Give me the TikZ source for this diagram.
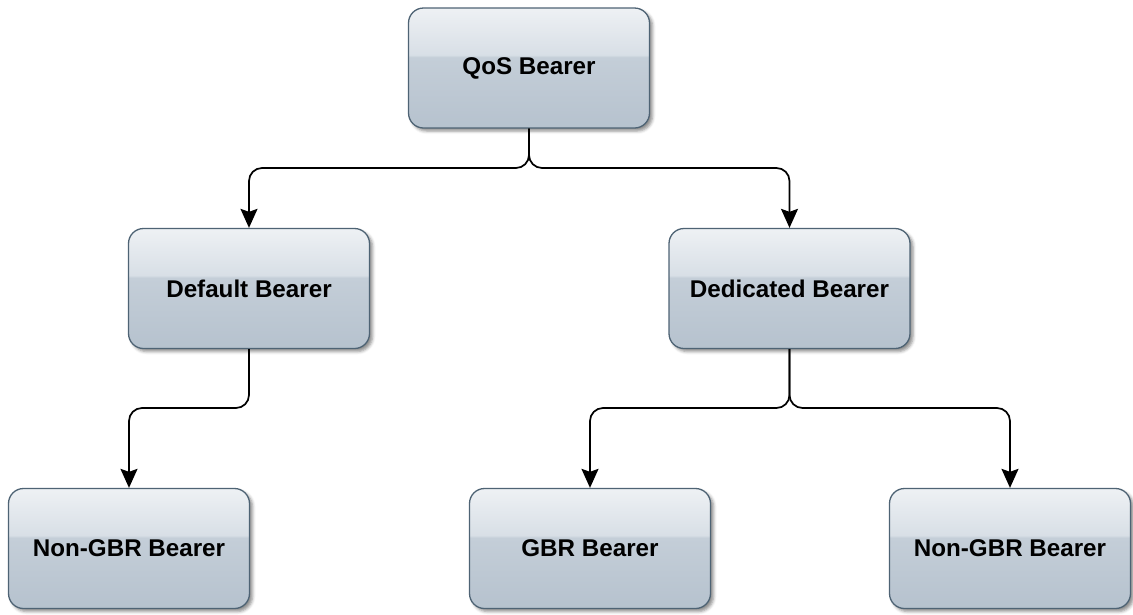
\documentclass[tikz,border=0pt]{standalone}
\usepackage{fontspec}
\setmainfont{Liberation Sans}
\usetikzlibrary{arrows.meta,shadows.blur}

\definecolor{glossBottom}{HTML}{B6C2CE}
\definecolor{glossLow}{HTML}{C4CED8}
\definecolor{glossHigh}{HTML}{D8DFE6}
\definecolor{glossTop}{HTML}{EEF1F4}
\definecolor{boxEdge}{HTML}{4E6374}

% glossy two-tone fill: the path's box spans 25bp..75bp
\pgfdeclareverticalshading{gloss}{100bp}{%
  color(0bp)=(glossBottom); color(25bp)=(glossBottom);
  color(54.5bp)=(glossLow); color(55.5bp)=(glossHigh);
  color(75bp)=(glossTop); color(100bp)=(glossTop)}

\tikzset{
  bearer/.style={
    rectangle, rounded corners=15pt,
    minimum width=241pt, minimum height=120pt,
    draw=boxEdge, line width=1.3pt,
    shading=gloss,
    blur shadow={shadow xshift=3pt, shadow yshift=-3pt,
                 shadow opacity=45, shadow blur radius=3pt},
    font=\fontsize{24.2}{28}\selectfont\bfseries,
    text=black, inner sep=0pt},
  conn/.style={
    draw=black, line width=1.7pt, rounded corners=13pt,
    -{Stealth[length=19pt,width=17pt,inset=3pt]}}
}

\begin{document}
\begin{tikzpicture}[x=1pt,y=-1pt]
  \useasboundingbox (0,0) rectangle (1133,614);

  \node[bearer] (qos)  at (529,68)    {QoS Bearer};
  \node[bearer] (def)  at (249,288.5) {Default Bearer};
  \node[bearer] (ded)  at (789.5,288.5) {Dedicated Bearer};
  \node[bearer] (ngl)  at (129,548.5) {Non-GBR Bearer};
  \node[bearer] (gbr)  at (590,548.5) {GBR Bearer};
  \node[bearer] (ngr)  at (1010,548.5) {Non-GBR Bearer};

  % branching points of the tree
  \coordinate (jq) at (529,168);
  \coordinate (jd) at (249,408);
  \coordinate (je) at (789.5,408);

  \draw[conn] (qos.south) -- (jq) -| (def.north);
  \draw[conn] (qos.south) -- (jq) -| (ded.north);
  \draw[conn] (def.south) -- (jd) -| (ngl.north);
  \draw[conn] (ded.south) -- (je) -| (gbr.north);
  \draw[conn] (ded.south) -- (je) -| (ngr.north);
\end{tikzpicture}
\end{document}
